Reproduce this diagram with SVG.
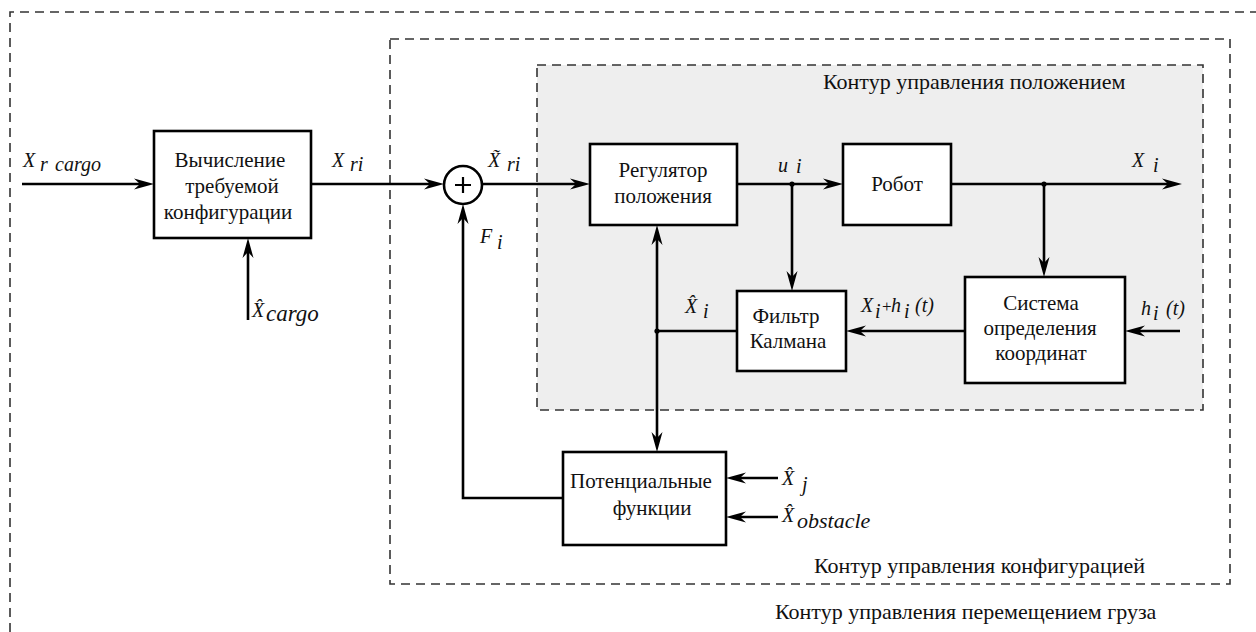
<svg xmlns="http://www.w3.org/2000/svg" width="1256" height="632" viewBox="0 0 1256 632">
  <style>
    .frame { fill: none; stroke: #333; stroke-width: 1.6; stroke-dasharray: 9 6; }
    .zone { fill: #eeeeee; stroke: #333; stroke-width: 1.6; stroke-dasharray: 9 6; }
    .block { fill: #ffffff; stroke: #000; stroke-width: 2.6; }
    .wire { fill: none; stroke: #000; stroke-width: 2.6; }
    .arrow { marker-end: url(#head); }
    .dot { fill: #000; }
    text { font-family: 'Liberation Serif', 'DejaVu Serif', serif; fill: #111; }
    .txt { font-size: 21px; }
    .cap { font-size: 22px; }
    .lab { font-style: italic; font-size: 20px; }
  </style>
  <defs>
    <marker id="head" markerUnits="userSpaceOnUse" viewBox="-21 -6 22 12" refX="-8" refY="0" markerWidth="22" markerHeight="12" orient="auto">
      <path d="M0,0 L-20,-5.5 L-14,0 L-20,5.5 Z" fill="#000"/>
    </marker>
  </defs>

  <!-- nested control loops -->
  <g id="loop-cargo">
    <path class="frame" d="M10,632 V12 H1256"/>
    <text class="cap" x="775" y="619">Контур управления перемещением груза</text>
  </g>
  <g id="loop-config">
    <rect class="frame" x="390" y="39" width="840" height="545"/>
    <text class="cap" x="814" y="573">Контур управления конфигурацией</text>
  </g>
  <g id="loop-position">
    <rect class="zone" x="537" y="65" width="666" height="345"/>
    <text class="cap" x="823" y="89">Контур управления положением</text>
  </g>

  <!-- signal lines -->
  <g id="connectors">
    <path class="wire arrow" d="M22,184 H146"/>
    <path class="wire arrow" d="M311,184 H436"/>
    <path class="wire arrow" d="M482,184 H582"/>
    <path class="wire arrow" d="M737,184 H835"/>
    <path class="wire arrow" d="M792,184 V283"/>
    <path class="wire arrow" d="M951,184 H1174"/>
    <path class="wire arrow" d="M1044,184 V269"/>
    <path class="wire arrow" d="M1180,331 H1133"/>
    <path class="wire arrow" d="M965,331 H854"/>
    <path class="wire" d="M737,331 H657"/>
    <path class="wire arrow" d="M657,331 V233"/>
    <path class="wire arrow" d="M657,331 V444"/>
    <path class="wire arrow" d="M563,498 H463 V212"/>
    <path class="wire arrow" d="M778,478 H734"/>
    <path class="wire arrow" d="M778,517 H734"/>
    <path class="wire arrow" d="M248,320 V246"/>
    <circle class="dot" cx="792" cy="184" r="2.6"/>
    <circle class="dot" cx="1044" cy="184" r="2.6"/>
    <circle class="dot" cx="657" cy="331" r="2.6"/>
  </g>

  <!-- blocks -->
  <g id="config-calc">
    <rect class="block" x="154" y="131" width="157" height="107"/>
    <text class="txt" x="230" y="167" text-anchor="middle">Вычисление</text>
    <text class="txt" x="232" y="193" text-anchor="middle">требуемой</text>
    <text class="txt" x="228" y="219" text-anchor="middle">конфигурации</text>
  </g>
  <g id="summer">
    <circle cx="463" cy="185" r="19" fill="#fff" stroke="#000" stroke-width="2.6"/>
    <path d="M455,185 H471 M463,177 V193" stroke="#000" stroke-width="2.2"/>
  </g>
  <g id="position-regulator">
    <rect class="block" x="590" y="144" width="147" height="81"/>
    <text class="txt" x="663" y="177" text-anchor="middle">Регулятор</text>
    <text class="txt" x="663" y="203" text-anchor="middle">положения</text>
  </g>
  <g id="robot">
    <rect class="block" x="843" y="144" width="108" height="81"/>
    <text class="txt" x="897" y="191" text-anchor="middle">Робот</text>
  </g>
  <g id="kalman-filter">
    <rect class="block" x="737" y="291" width="109" height="80"/>
    <text class="txt" x="786" y="323" text-anchor="middle">Фильтр</text>
    <text class="txt" x="788" y="348" text-anchor="middle">Калмана</text>
  </g>
  <g id="positioning-system">
    <rect class="block" x="965" y="277" width="160" height="106"/>
    <text class="txt" x="1041" y="310" text-anchor="middle">Система</text>
    <text class="txt" x="1040" y="335" text-anchor="middle">определения</text>
    <text class="txt" x="1041" y="360" text-anchor="middle">координат</text>
  </g>
  <g id="potential-functions">
    <rect class="block" x="563" y="452" width="163" height="93"/>
    <text class="txt" x="641" y="488" text-anchor="middle">Потенциальные</text>
    <text class="txt" x="652" y="515" text-anchor="middle">функции</text>
  </g>

  <!-- signal labels -->
  <g id="labels">
    <text class="lab" x="23" y="167">X</text>
    <text class="lab" x="40" y="171">r</text>
    <text class="lab" x="55" y="171">cargo</text>

    <text class="lab" x="332" y="167">X</text>
    <text class="lab" x="350" y="171">ri</text>

    <text class="lab" x="488" y="167">X̃</text>
    <text class="lab" x="507" y="171">ri</text>

    <text class="lab" x="480" y="243">F</text>
    <text class="lab" x="497" y="249">i</text>

    <text class="lab" x="778" y="172">u</text>
    <text class="lab" x="796" y="173">i</text>

    <text class="lab" x="1132" y="167">X</text>
    <text class="lab" x="1153" y="172">i</text>

    <text class="lab" x="252" y="317">X̂</text>
    <text class="lab" x="266" y="321" style="font-size:23px">cargo</text>

    <text class="lab" x="685" y="313">X̂</text>
    <text class="lab" x="703" y="318">i</text>

    <text class="lab" x="861" y="312">X</text>
    <text class="lab" x="875" y="318">i</text>
    <text class="lab" x="882" y="312" style="font-style:normal;font-size:17px">+</text>
    <text class="lab" x="891" y="312">h</text>
    <text class="lab" x="904" y="318">i</text>
    <text class="lab" x="915" y="312">(t)</text>

    <text class="lab" x="1141" y="315">h</text>
    <text class="lab" x="1153" y="320">i</text>
    <text class="lab" x="1166" y="315">(t)</text>

    <text class="lab" x="782" y="485">X̂</text>
    <text class="lab" x="802" y="491">j</text>

    <text class="lab" x="782" y="522">X̂</text>
    <text class="lab" x="797" y="528" style="font-size:22px">obstacle</text>
  </g>
</svg>
